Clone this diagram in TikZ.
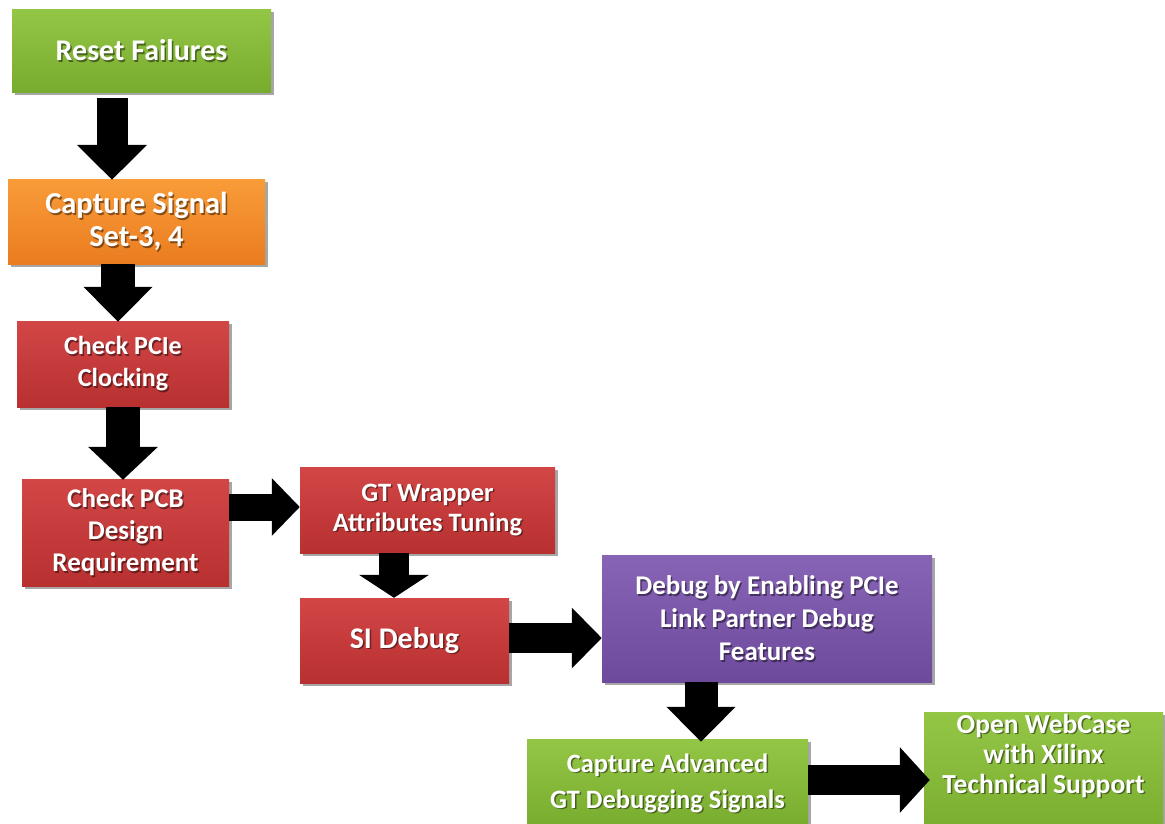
\documentclass[tikz,border=0pt]{standalone}
\usepackage{fontspec}
\setmainfont{Carlito}
\usetikzlibrary{arrows.meta,shadows}
\definecolor{gtop}{RGB}{148,198,70}
\definecolor{gbot}{RGB}{120,172,46}
\definecolor{otop}{RGB}{249,156,56}
\definecolor{obot}{RGB}{234,124,32}
\definecolor{rtop}{RGB}{210,70,70}
\definecolor{rbot}{RGB}{184,48,48}
\definecolor{ptop}{RGB}{136,100,182}
\definecolor{pbot}{RGB}{110,74,156}
\newcommand\fsz[2]{\fontsize{#1}{#2}\selectfont\bfseries}
\tikzset{
  box/.style={rectangle, inner sep=0pt, draw=none,
    drop shadow={shadow xshift=3pt, shadow yshift=-3pt, opacity=0.35, fill=black}},
  greenbox/.style={box, top color=gtop, bottom color=gbot},
  orangebox/.style={box, top color=otop, bottom color=obot},
  redbox/.style={box, top color=rtop, bottom color=rbot},
  purplebox/.style={box, top color=ptop, bottom color=pbot},
  txt/.style={align=center, text=white, inner sep=0pt},
  txtsh/.style={align=center, text=black, opacity=0.45, inner sep=0pt},
  blk/.style={draw=black, line cap=butt}
}
\begin{document}
\begin{tikzpicture}[x=1pt,y=-1pt]
\useasboundingbox (0,0) rectangle (1165,823);
\clip (0,0) rectangle (1165,823);
\fill[white] (0,0) rectangle (1165,823);

% boxes
\node[greenbox, minimum width=259pt, minimum height=83pt] (b1) at (141.5,50.5) {};
\node[orangebox, minimum width=257pt, minimum height=85pt] (b2) at (136.5,221.5) {};
\node[redbox, minimum width=212pt, minimum height=86pt] (b3) at (123,364) {};
\node[redbox, minimum width=207pt, minimum height=107pt] (b4) at (125.5,532.5) {};
\node[redbox, minimum width=255pt, minimum height=86pt] (b5) at (427.5,510) {};
\node[redbox, minimum width=209pt, minimum height=85pt] (b6) at (404.5,640.5) {};
\node[purplebox, minimum width=330pt, minimum height=127pt] (b7) at (767,618.5) {};
\node[greenbox, minimum width=281pt, minimum height=88pt] (b8) at (667.5,783) {};
\node[greenbox, minimum width=239pt, minimum height=126pt] (b9) at (1043.5,775) {};

% texts (shadow + white)
\node[txtsh, font=\fsz{30}{34}] (s1) at ([shift={(1.5pt,-1.5pt)}]b1.center) {Reset Failures};
\node[txt, font=\fsz{30}{34}] (t1) at (b1.center) {Reset Failures};
\node[txtsh, font=\fsz{30.5}{33}] (s2) at ([shift={(1.5pt,-1.5pt)}]b2.center) {Capture Signal\\Set-3, 4};
\node[txt, font=\fsz{30.5}{33}] (t2) at (b2.center) {Capture Signal\\Set-3, 4};
\node[txtsh, font=\fsz{26}{32}] (s3) at ([shift={(1.5pt,-1.5pt)}]b3.center) {Check PCIe\\Clocking};
\node[txt, font=\fsz{26}{32}] (t3) at (b3.center) {Check PCIe\\Clocking};
\node[txtsh, font=\fsz{27}{32}] (s4) at ([shift={(1.5pt,-1.5pt)}]b4.center) {Check PCB\\Design\\Requirement};
\node[txt, font=\fsz{27}{32}] (t4) at (b4.center) {Check PCB\\Design\\Requirement};
\node[txtsh, font=\fsz{26.5}{30}] (s5) at ([shift={(1.5pt,-1.5pt)}]b5.center) {GT Wrapper\\Attributes Tuning};
\node[txt, font=\fsz{26.5}{30}] (t5) at (b5.center) {GT Wrapper\\Attributes Tuning};
\node[txtsh, font=\fsz{30}{34}] (s6) at ([shift={(1.5pt,-1.5pt)}]b6.center) {SI Debug};
\node[txt, font=\fsz{30}{34}] (t6) at (b6.center) {SI Debug};
\node[txtsh, font=\fsz{27}{33}] (s7) at ([shift={(1.5pt,-1.5pt)}]b7.center) {Debug by Enabling PCIe\\Link Partner Debug\\Features};
\node[txt, font=\fsz{27}{33}] (t7) at (b7.center) {Debug by Enabling PCIe\\Link Partner Debug\\Features};
\node[txtsh, font=\fsz{26.5}{36}] (s8) at ([shift={(1.5pt,-1.5pt)}]b8.center) {Capture Advanced\\GT Debugging Signals};
\node[txt, font=\fsz{26.5}{36}] (t8) at (b8.center) {Capture Advanced\\GT Debugging Signals};
\coordinate (c9) at (1043.5,756);
\node[txtsh, font=\fsz{27.5}{30}] (s9) at ([shift={(1.5pt,-1.5pt)}]c9) {Open WebCase\\with Xilinx\\Technical Support};
\node[txt, font=\fsz{27.5}{30}] (t9) at (c9) {Open WebCase\\with Xilinx\\Technical Support};

% arrow axes
\coordinate (x1) at (112,0);
\coordinate (x2) at (118,0);
\coordinate (x3) at (123,0);
\coordinate (y4) at (0,507);
\coordinate (x5) at (394,0);
\coordinate (y6) at (0,638);
\coordinate (x7) at (701,0);
\coordinate (y8) at (0,780);

% block arrows
\draw[blk, line width=31pt, -{Triangle[length=35pt,width=68pt]}, shorten <=6pt, shorten >=-1pt]
  (b1.south -| x1) -- (b2.north -| x1);
\draw[blk, line width=34pt, -{Triangle[length=35pt,width=67pt]}, shorten >=-1pt]
  (b2.south -| x2) -- (b3.north -| x2);
\draw[blk, line width=34pt, -{Triangle[length=33pt,width=68pt]}, shorten >=-1pt]
  (b3.south -| x3) -- (b4.north -| x3);
\draw[blk, line width=27pt, -{Triangle[length=28pt,width=56pt]}]
  (b4.east |- y4) -- (b5.west |- y4);
\draw[blk, line width=30pt, -{Triangle[length=23pt,width=69pt]}]
  (b5.south -| x5) -- (b6.north -| x5);
\draw[blk, line width=30pt, -{Triangle[length=30pt,width=59pt]}]
  (b6.east |- y6) -- (b7.west |- y6);
\draw[blk, line width=33pt, -{Triangle[length=35pt,width=67pt]}, shorten >=-3pt]
  (b7.south -| x7) -- (b8.north -| x7);
\draw[blk, line width=30pt, -{Triangle[length=30pt,width=64pt]}, shorten >=-6pt]
  (b8.east |- y8) -- (b9.west |- y8);
\end{tikzpicture}
\end{document}
